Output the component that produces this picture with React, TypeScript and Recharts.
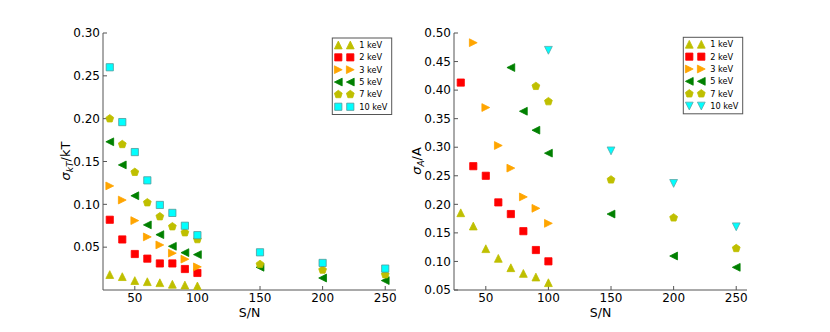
import React from 'react';
import { ScatterChart, Scatter, XAxis, YAxis } from 'recharts';

const FONT = '"DejaVu Sans", Verdana, sans-serif';

// ---------- data ----------
const snLow = [30, 40, 50, 60, 70, 80, 90, 100];
const snAll = [30, 40, 50, 60, 70, 80, 90, 100, 150, 200, 250];

// left panel: sigma_kT / kT
const kt1keV = [0.018, 0.0156, 0.011, 0.0097, 0.0085, 0.0067, 0.0058, 0.0047];
const kt2keV = [0.082, 0.059, 0.042, 0.0366, 0.031, 0.031, 0.0245, 0.0199];
const kt3keV = [0.1215, 0.105, 0.081, 0.062, 0.0526, 0.043, 0.036, 0.027];
const kt5keV = [0.173, 0.146, 0.11, 0.076, 0.0646, 0.051, 0.0436, 0.0413, 0.0265, 0.014, 0.011];
const kt7keV = [0.2, 0.17, 0.1375, 0.102, 0.0857, 0.074, 0.067, 0.059, 0.03, 0.0234, 0.018];
const kt10keV = [0.26, 0.196, 0.161, 0.128, 0.0993, 0.09, 0.075, 0.064, 0.044, 0.0316, 0.025];

// right panel: sigma_A / A (only points inside the plotted range)
const snA1 = [30, 40, 50, 60, 70, 80, 90, 100];
const a1keV = [0.1852, 0.162, 0.1223, 0.1054, 0.089, 0.079, 0.0727, 0.0628];
const snA2 = [30, 40, 50, 60, 70, 80, 90, 100];
const a2keV = [0.4132, 0.2668, 0.25, 0.2034, 0.183, 0.153, 0.12, 0.1002];
const snA3 = [40, 50, 60, 70, 80, 90, 100];
const a3keV = [0.483, 0.3695, 0.303, 0.2634, 0.213, 0.193, 0.1667];
const snA5 = [70, 80, 90, 100, 150, 200, 250];
const a5keV = [0.4395, 0.363, 0.3298, 0.2896, 0.183, 0.1095, 0.0897];
const snA7 = [90, 100, 150, 200, 250];
const a7keV = [0.4068, 0.38, 0.243, 0.1765, 0.1229];
const snA10 = [100, 150, 200, 250];
const a10keV = [0.4697, 0.2936, 0.2366, 0.1607];

const xTicks = [50, 100, 150, 200, 250];
const ktTicks = [0.05, 0.1, 0.15, 0.2, 0.25, 0.3];
const aTicks = [0.05, 0.1, 0.15, 0.2, 0.25, 0.3, 0.35, 0.4, 0.45, 0.5];

const seriesNames = ['1 keV', '2 keV', '3 keV', '5 keV', '7 keV', '10 keV'];

// ---------- styles ----------
const YEL = '#bfbf00';
const RED = '#ff0000';
const ORA = '#ffa500';
const GRN = '#008000';
const CYA = '#00ffff';

type Kind = 'up' | 'down' | 'left' | 'right' | 'square' | 'pent';

interface Sty { kind: Kind; fill: string; stroke: string }

const leftStyles: Sty[] = [
  { kind: 'up', fill: YEL, stroke: YEL },
  { kind: 'square', fill: RED, stroke: RED },
  { kind: 'right', fill: ORA, stroke: ORA },
  { kind: 'left', fill: GRN, stroke: GRN },
  { kind: 'pent', fill: YEL, stroke: YEL },
  { kind: 'square', fill: CYA, stroke: '#4f9a9a' },
];
const rightStyles: Sty[] = [
  leftStyles[0], leftStyles[1], leftStyles[2], leftStyles[3], leftStyles[4],
  { kind: 'down', fill: CYA, stroke: '#5aa8a8' },
];

function markerEl(kind: Kind, cx: number, cy: number, fill: string, stroke: string, key?: string) {
  const h = 3.9;
  let pts = '';
  if (kind === 'up') pts = `${cx},${cy - h} ${cx - h},${cy + h} ${cx + h},${cy + h}`;
  else if (kind === 'down') pts = `${cx},${cy + h} ${cx - h},${cy - h} ${cx + h},${cy - h}`;
  else if (kind === 'left') pts = `${cx - h},${cy} ${cx + h},${cy - h} ${cx + h},${cy + h}`;
  else if (kind === 'right') pts = `${cx + h},${cy} ${cx - h},${cy - h} ${cx - h},${cy + h}`;
  else if (kind === 'square') {
    const s = 3.6;
    pts = `${cx - s},${cy - s} ${cx + s},${cy - s} ${cx + s},${cy + s} ${cx - s},${cy + s}`;
  } else {
    const r = 4.1;
    const arr: string[] = [];
    for (let k = 0; k < 5; k++) {
      const a = ((-90 + 72 * k) * Math.PI) / 180;
      arr.push(`${cx + r * Math.cos(a)},${cy + r * Math.sin(a)}`);
    }
    pts = arr.join(' ');
  }
  return <polygon key={key} points={pts} fill={fill} stroke={stroke} strokeWidth={0.8} />;
}

function shapeFor(st: Sty) {
  return (p: any) => markerEl(st.kind, p.cx, p.cy, st.fill, st.stroke);
}

function toPoints(xs: number[], ys: number[]) {
  return xs.map((x, i) => ({ x, y: ys[i] }));
}

const leftData = [
  toPoints(snLow, kt1keV),
  toPoints(snLow, kt2keV),
  toPoints(snLow, kt3keV),
  toPoints(snAll, kt5keV),
  toPoints(snAll, kt7keV),
  toPoints(snAll, kt10keV),
];
const rightData = [
  toPoints(snA1, a1keV),
  toPoints(snA2, a2keV),
  toPoints(snA3, a3keV),
  toPoints(snA5, a5keV),
  toPoints(snA7, a7keV),
  toPoints(snA10, a10keV),
];

const AX = '#555';
const tickStyle = { fill: '#000', fontSize: 12, fontFamily: FONT };
const X_DOMAIN: [number, number] = [24.6, 258.6];

function Panel(props: {
  left: number;
  yWidth: number;
  marginRight: number;
  domain: [number, number];
  yTicks: number[];
  data: { x: number; y: number }[][];
  styles: Sty[];
}) {
  const { left, yWidth, marginRight, domain, yTicks, data, styles } = props;
  return (
    <div style={{ position: 'absolute', left, top: 0 }}>
      <ScatterChart
        width={415}
        height={332}
        margin={{ top: 33, right: marginRight, bottom: 12, left: 0 }}
      >
        <XAxis
          dataKey="x"
          type="number"
          domain={X_DOMAIN}
          allowDataOverflow
          ticks={xTicks}
          tickSize={-4}
          tickMargin={7}
          height={30}
          stroke={AX}
          tick={tickStyle}
        />
        <XAxis
          xAxisId="top"
          orientation="top"
          type="number"
          domain={X_DOMAIN}
          allowDataOverflow
          ticks={xTicks}
          tickSize={-4}
          height={0}
          stroke={AX}
          tickFormatter={() => ''}
        />
        <YAxis
          dataKey="y"
          type="number"
          domain={domain}
          allowDataOverflow
          ticks={yTicks}
          tickSize={-4}
          tickMargin={7}
          width={yWidth}
          stroke={AX}
          tick={tickStyle}
          tickFormatter={(v: number) => v.toFixed(2)}
        />
        <YAxis
          yAxisId="right"
          orientation="right"
          type="number"
          domain={domain}
          allowDataOverflow
          ticks={yTicks}
          tickSize={-4}
          width={0}
          stroke={AX}
          tickFormatter={() => ''}
        />
        {data.map((d, i) => (
          <Scatter
            key={seriesNames[i]}
            name={seriesNames[i]}
            data={d}
            isAnimationActive={false}
            shape={shapeFor(styles[i])}
          />
        ))}
      </ScatterChart>
    </div>
  );
}

function LegendBox({ x, y, styles }: { x: number; y: number; styles: Sty[] }) {
  const w = 59.4;
  const h = 76.5;
  return (
    <g>
      <rect x={x} y={y} width={w} height={h} fill="#fff" stroke="#555" strokeWidth={1} />
      {seriesNames.map((n, i) => {
        const cy = y + 7 + i * 12.35;
        const st = styles[i];
        return (
          <g key={n}>
            {markerEl(st.kind, x + 6, cy, st.fill, st.stroke, 'a')}
            {markerEl(st.kind, x + 18, cy, st.fill, st.stroke, 'b')}
            <text x={x + 27} y={cy} dy="0.35em" fontSize={8.2} fontFamily={FONT} fill="#000">
              {n}
            </text>
          </g>
        );
      })}
    </g>
  );
}

export default function App() {
  return (
    <div style={{ position: 'absolute', left: 0, top: 0, width: 830, height: 332, background: '#fff', overflow: 'hidden' }}>
      <Panel left={0} yWidth={103} marginRight={19} domain={[0, 0.3]} yTicks={ktTicks} data={leftData} styles={leftStyles} />
      <Panel left={415} yWidth={39} marginRight={83} domain={[0.05, 0.5]} yTicks={aTicks} data={rightData} styles={rightStyles} />
      <svg width={830} height={332} style={{ position: 'absolute', left: 0, top: 0, pointerEvents: 'none' }}>
        <LegendBox x={332.3} y={38} styles={leftStyles} />
        <LegendBox x={683.3} y={37.3} styles={rightStyles} />
        <text x={249.5} y={317} textAnchor="middle" fontSize={12.5} fontFamily={FONT} fill="#000">S/N</text>
        <text x={600.5} y={317} textAnchor="middle" fontSize={12.5} fontFamily={FONT} fill="#000">S/N</text>
        <text transform="translate(70,161) rotate(-90)" textAnchor="middle" fontSize={13} fontFamily={FONT} fill="#000">
          <tspan fontStyle="italic">σ</tspan>
          <tspan fontStyle="italic" fontSize={9} dy={3}>kT</tspan>
          <tspan dy={-3}>/kT</tspan>
        </text>
        <text transform="translate(421,161) rotate(-90)" textAnchor="middle" fontSize={13} fontFamily={FONT} fill="#000">
          <tspan fontStyle="italic">σ</tspan>
          <tspan fontStyle="italic" fontSize={9} dy={3}>A</tspan>
          <tspan dy={-3}>/A</tspan>
        </text>
      </svg>
    </div>
  );
}
